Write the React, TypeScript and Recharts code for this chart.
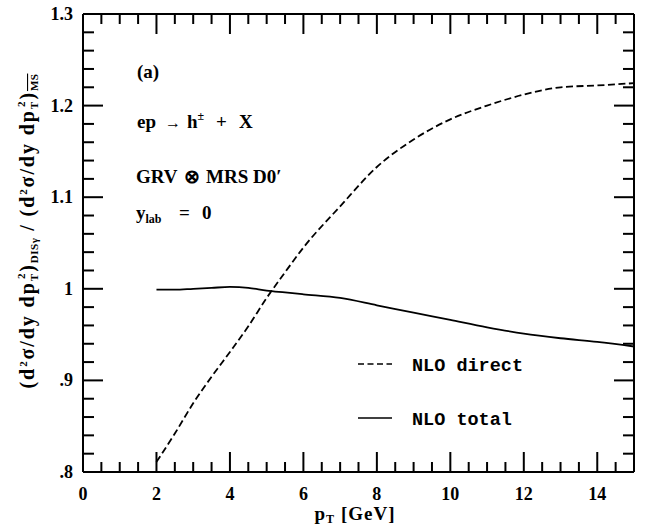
import React from 'react';
import { LineChart, Line, XAxis, YAxis, Legend } from 'recharts';

// p_T grid (GeV) and the two ratio curves
const pT = [2, 2.5, 3, 3.5, 4, 4.5, 5, 5.5, 6, 7, 8, 9, 10, 11, 12, 13, 14, 15];
const nloDirect = [0.811, 0.842, 0.875, 0.904, 0.931, 0.959, 0.99, 1.018, 1.045, 1.09, 1.133, 1.163, 1.185, 1.2, 1.212, 1.22, 1.222, 1.2245];
const nloTotal = [0.999, 0.999, 1.0, 1.001, 1.002, 1.001, 0.998, 0.996, 0.994, 0.99, 0.982, 0.974, 0.966, 0.958, 0.951, 0.946, 0.942, 0.937];

const xMajor = [0, 2, 4, 6, 8, 10, 12, 14];
const yMajor = [0.8, 0.9, 1.0, 1.1, 1.2, 1.3];
const yMajorLabels = ['.8', '.9', '1', '1.1', '1.2', '1.3'];

// minor ticks: every 0.5 GeV on x, every 0.02 on y
const xTicks = Array.from({ length: 31 }, (_, i) => i * 0.5);
const yTicks = Array.from({ length: 26 }, (_, i) => Math.round((0.8 + i * 0.02) * 1000) / 1000);

const data = pT.map((p, i) => ({ pT: p, direct: nloDirect[i], total: nloTotal[i] }));

const FONT = '"Liberation Serif", "Times New Roman", serif';
const MONO = '"Liberation Mono", "Courier New", monospace';
const INK = '#000';
const TICK_W = 2;

const isXMajor = (v: number) => xMajor.some(m => Math.abs(m - v) < 1e-6);
const yMajorIndex = (v: number) => yMajor.findIndex(m => Math.abs(m - v) < 1e-6);

// ticks point into the frame on all four sides
const XTick = (props: any) => {
  const { x, y, payload, side } = props;
  const major = isXMajor(payload.value);
  const len = major ? 20 : 10;
  const dir = side === 'bottom' ? -1 : 1;
  return (
    <g>
      <line x1={x} x2={x} y1={y} y2={y + dir * len} stroke={INK} strokeWidth={TICK_W} />
      {side === 'bottom' && major && (
        <text x={x} y={y + 28} textAnchor="middle" fontFamily={FONT} fontWeight="bold" fontSize={18} fill={INK}>
          {payload.value}
        </text>
      )}
    </g>
  );
};

const YTick = (props: any) => {
  const { x, y, payload, side } = props;
  const idx = yMajorIndex(payload.value);
  const len = idx >= 0 ? 20 : 11;
  const dir = side === 'left' ? 1 : -1;
  return (
    <g>
      <line x1={x} x2={x + dir * len} y1={y} y2={y} stroke={INK} strokeWidth={TICK_W} />
      {side === 'left' && idx >= 0 && (
        <text x={x - 10} y={y + 6} textAnchor="end" fontFamily={FONT} fontWeight="bold" fontSize={18} fill={INK}>
          {yMajorLabels[idx]}
        </text>
      )}
    </g>
  );
};

const Ratio = ({ scheme, bar }: { scheme: string; bar?: boolean }) => (
  <>
    <tspan>(d</tspan>
    <tspan dy={-7} fontSize={11}>2</tspan>
    <tspan dy={7}>σ/dy dp</tspan>
    <tspan dy={4} fontSize={11}>T</tspan>
    <tspan dy={-13} dx={-7} fontSize={11}>2</tspan>
    <tspan dy={9}>)</tspan>
    <tspan dy={4} fontSize={11} letterSpacing={0.5} textDecoration={bar ? 'overline' : undefined}>{scheme}</tspan>
    <tspan dy={-4}> </tspan>
  </>
);

const YTitle = () => (
  <text
    transform="translate(34,231) rotate(-90)"
    textAnchor="middle"
    fontFamily={FONT}
    fontWeight="bold"
    fontSize={20}
    letterSpacing={1.9}
    fill={INK}
  >
    <Ratio scheme="DISγ" />
    <tspan>/ </tspan>
    <Ratio scheme="MS" bar />
  </text>
);

const XTitle = () => (
  <text x={355} y={520} textAnchor="middle" fontFamily={FONT} fontWeight="bold" fontSize={19} letterSpacing={1} fill={INK}>
    p<tspan dy={3} fontSize={12}>T</tspan>
    <tspan dy={-3}> [GeV]</tspan>
  </text>
);

const LegendBox = (props: any) => {
  const items = props.payload || [];
  return (
    <div style={{ fontFamily: MONO, fontWeight: 'bold', fontSize: 18.5 }}>
      {items.map((it: any, i: number) => (
        <div key={i} style={{ display: 'flex', alignItems: 'center', height: 54 }}>
          <svg width={54} height={10}>
            <line x1={0} x2={34} y1={5} y2={5} stroke={INK} strokeWidth={1.6}
              strokeDasharray={it.payload && it.payload.strokeDasharray ? '6 3.5' : undefined} />
          </svg>
          <span style={{ position: 'relative', top: 2 }}>{it.value}</span>
        </div>
      ))}
    </div>
  );
};

const notes: { text: React.ReactNode; y: number }[] = [
  { text: '(a)', y: 78 },
  {
    text: (
      <>
        <tspan x={137}>ep</tspan>
        <tspan x={165} fontSize={16}>→</tspan>
        <tspan x={187}>h</tspan>
        <tspan dy={-8} fontSize={12}>±</tspan>
        <tspan x={216} dy={8}>+</tspan>
        <tspan x={239}>X</tspan>
      </>
    ),
    y: 128,
  },
  {
    text: (
      <>
        <tspan x={136}>GRV</tspan>
        <tspan x={184}>⊗</tspan>
        <tspan x={206}>MRS D0′</tspan>
      </>
    ),
    y: 183,
  },
  {
    text: (
      <>
        <tspan x={136}>y</tspan>
        <tspan dy={4} fontSize={12}>lab</tspan>
        <tspan x={179} dy={-4}>=</tspan>
        <tspan x={202}>0</tspan>
      </>
    ),
    y: 219,
  },
];

export default function App() {
  return (
    <div style={{ position: 'absolute', left: 0, top: 0, width: 650, height: 528 }}>
      <LineChart width={650} height={528} data={data} margin={{ top: 13, right: 15, bottom: 0, left: 0 }}>
        <XAxis
          dataKey="pT"
          type="number"
          domain={[0, 15]}
          ticks={xTicks}
          interval={0}
          height={56}
          tickSize={0}
          tickMargin={0}
          tickLine={false}
          axisLine={{ stroke: INK, strokeWidth: 2 }}
          tick={(p: any) => <XTick {...p} side="bottom" />}
          label={{ content: () => <XTitle /> }}
        />
        <XAxis
          xAxisId="top"
          dataKey="pT"
          orientation="top"
          type="number"
          domain={[0, 15]}
          ticks={xTicks}
          interval={0}
          height={1}
          tickSize={0}
          tickMargin={0}
          tickLine={false}
          axisLine={{ stroke: INK, strokeWidth: 2 }}
          tick={(p: any) => <XTick {...p} side="top" />}
        />
        <YAxis
          type="number"
          domain={[0.8, 1.3]}
          ticks={yTicks}
          interval={0}
          width={83}
          tickSize={0}
          tickMargin={0}
          tickLine={false}
          axisLine={{ stroke: INK, strokeWidth: 2 }}
          tick={(p: any) => <YTick {...p} side="left" />}
          label={{ content: () => <YTitle /> }}
        />
        <YAxis
          yAxisId="right"
          orientation="right"
          type="number"
          domain={[0.8, 1.3]}
          ticks={yTicks}
          interval={0}
          width={1}
          tickSize={0}
          tickMargin={0}
          tickLine={false}
          axisLine={{ stroke: INK, strokeWidth: 2 }}
          tick={(p: any) => <YTick {...p} side="right" />}
        />
        <Legend
          layout="vertical"
          align="center"
          verticalAlign="middle"
          content={<LegendBox />}
          wrapperStyle={{ left: 358, top: 337, width: 240 }}
        />
        <Line
          name="NLO direct"
          dataKey="direct"
          type="monotone"
          stroke={INK}
          strokeWidth={1.8}
          strokeDasharray="7 3.5"
          dot={false}
          isAnimationActive={false}
        />
        {/* same scales as the main axes; attaching here makes the top/right frame render */}
        <Line
          name="NLO total"
          dataKey="total"
          xAxisId="top"
          yAxisId="right"
          type="monotone"
          stroke={INK}
          strokeWidth={1.8}
          dot={false}
          isAnimationActive={false}
        />
      </LineChart>
      <svg width={650} height={528} style={{ position: 'absolute', left: 0, top: 0, pointerEvents: 'none' }}>
        {notes.map((n, i) => (
          <text key={i} x={137} y={n.y} fontFamily={FONT} fontWeight="bold" fontSize={19} fill={INK}>
            {n.text}
          </text>
        ))}
      </svg>
    </div>
  );
}
